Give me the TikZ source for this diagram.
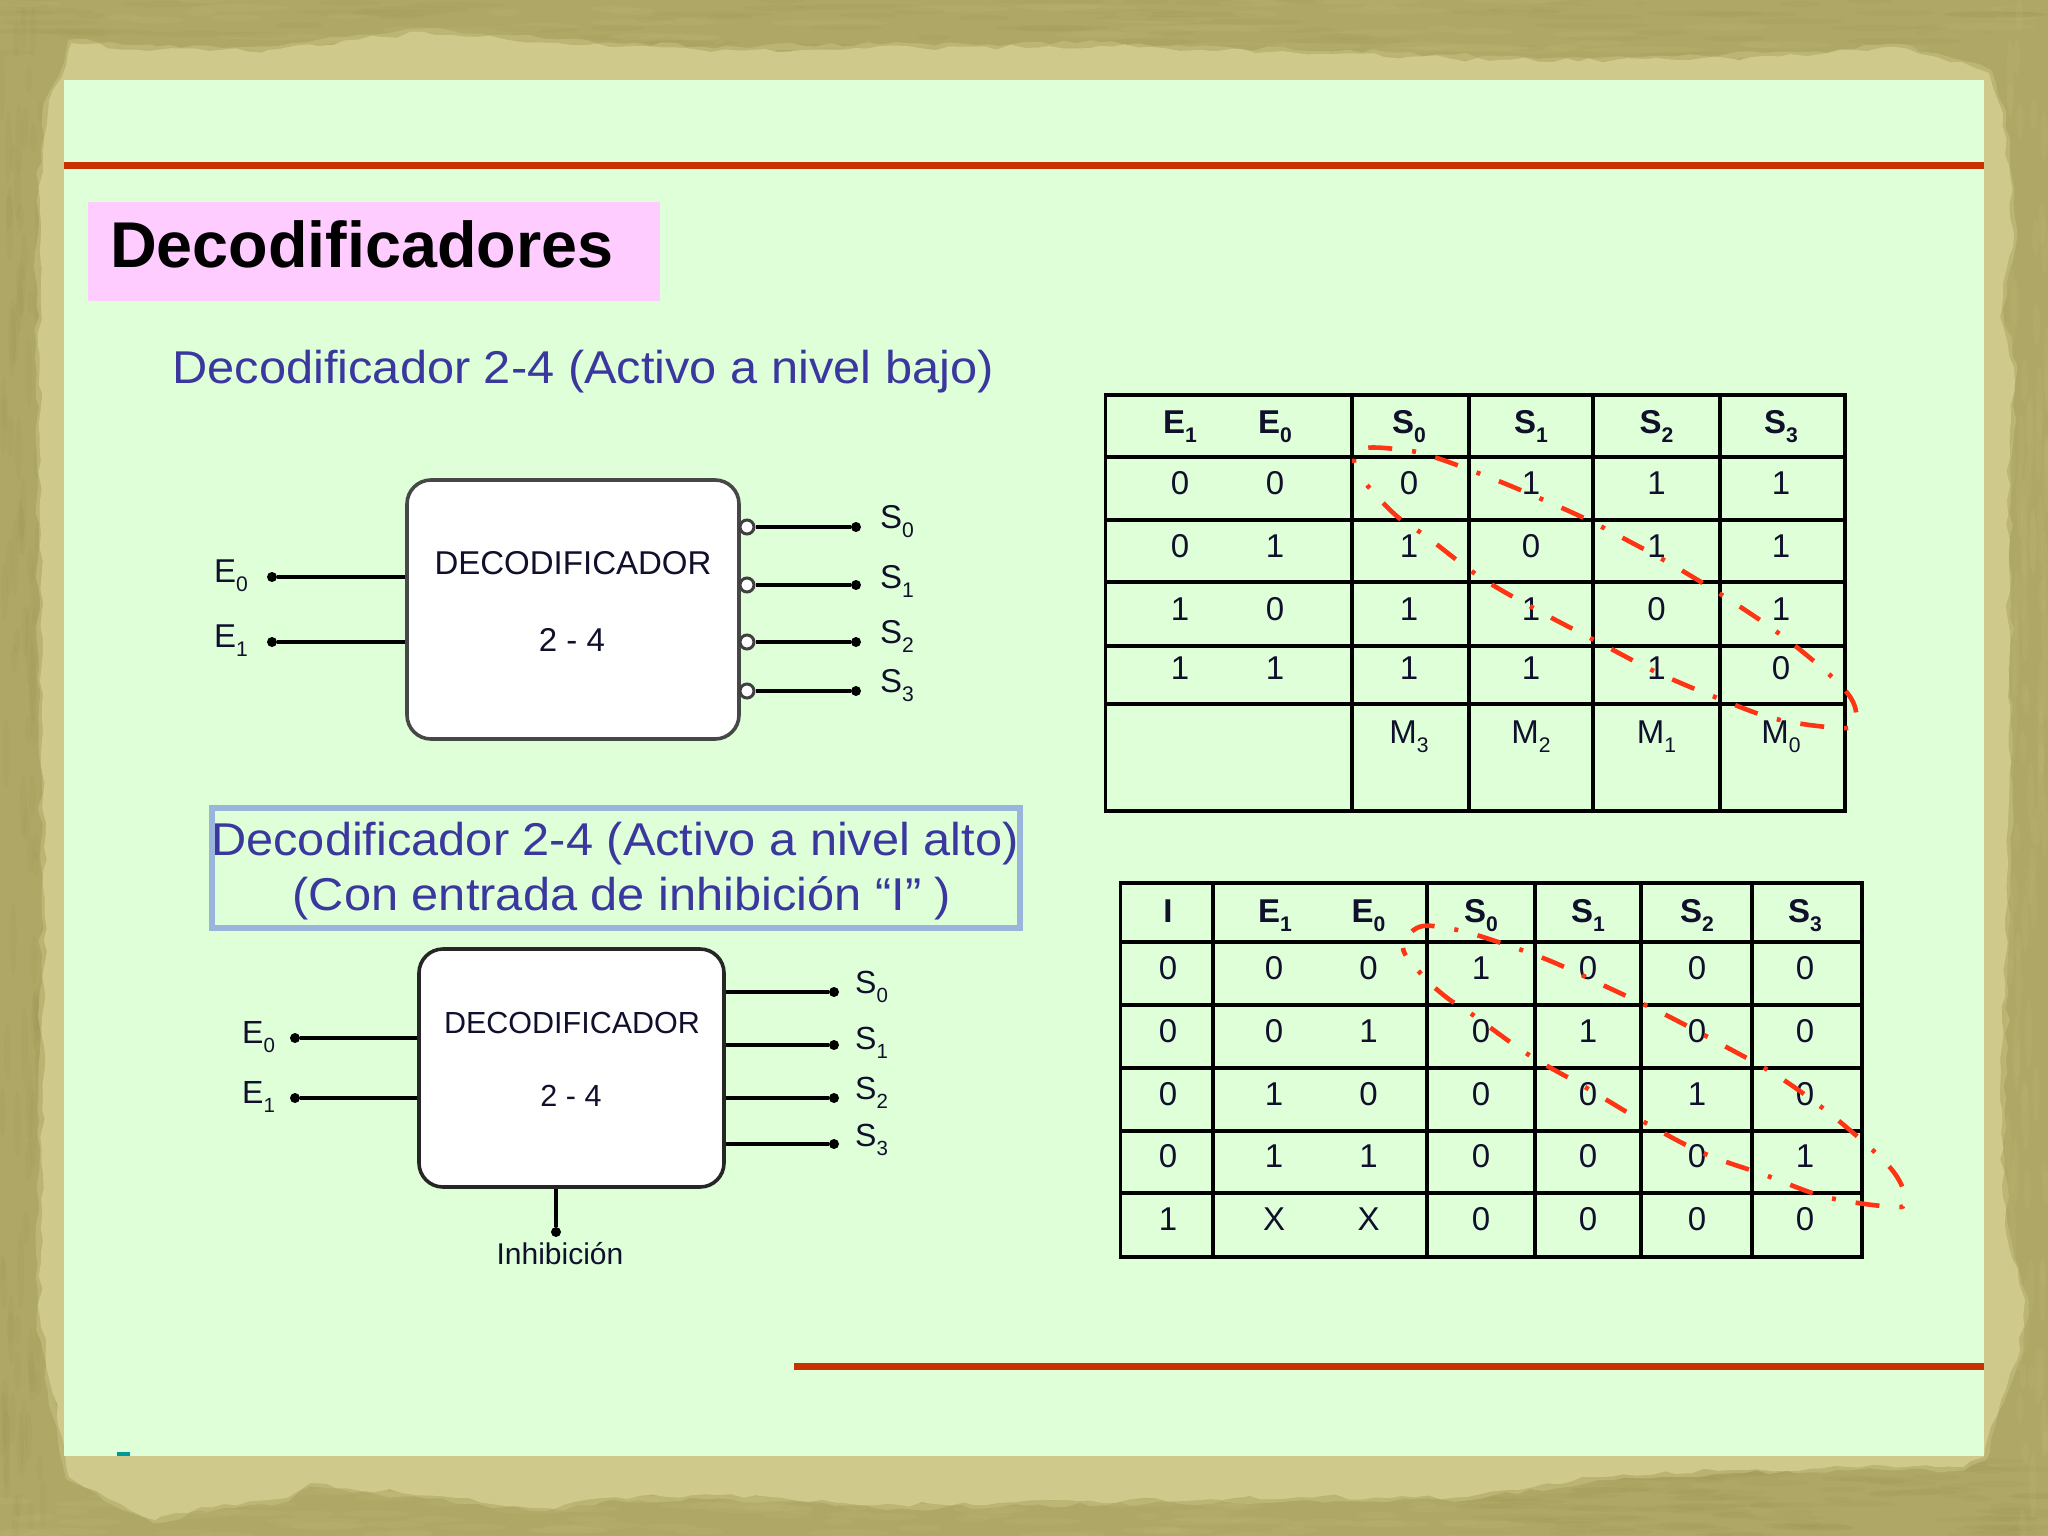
\documentclass[tikz,border=0pt]{standalone}
\usepackage{fontspec}
\usetikzlibrary{decorations.pathmorphing}
\setmainfont{Liberation Sans}
\definecolor{olive1}{HTML}{AEA765}
\definecolor{olive2}{HTML}{958E4C}
\definecolor{olive3}{HTML}{C2BB7A}
\definecolor{paperband}{HTML}{CFC98B}
\definecolor{panel}{HTML}{DFFFD9}
\definecolor{redline}{HTML}{C83200}
\definecolor{pinkbox}{HTML}{FFCCFF}
\definecolor{bluebox}{HTML}{9AB5DC}
\definecolor{headtxt}{HTML}{3A389E}
\definecolor{celltxt}{HTML}{10102C}
\definecolor{loopred}{HTML}{FF3414}
\newcommand{\fsz}[1]{\fontsize{#1}{#1}\selectfont}
\newcommand{\sbs}[1]{\raisebox{-0.3em}{\scalebox{0.64}{#1}}}
\newcommand{\wide}[1]{\scalebox{1.06}[1]{#1}}
\newcommand{\bandpath}{(71,43)--(156,50)--(268,50)--(424,32)--(558,43)--(700,50)--(1100,46)--(1500,60)--(1675,60)--(1815,55)--(1895,47)--(1937,57)--(1989,73)--(2003,113)--(2014,233)--(2003,283)--(2000,317)--(2014,367)--(2007,500)--(2009,800)--(2001,1133)--(2006,1233)--(2025,1300)--(2020,1350)--(2001,1400)--(1984,1457)--(1963,1467)--(1849,1467)--(1729,1470)--(1596,1477)--(1467,1497)--(1300,1497)--(900,1505)--(718,1495)--(603,1498)--(545,1508)--(402,1493)--(310,1483)--(287,1498)--(201,1507)--(155,1520)--(69,1477)--(57,1417)--(40,1317)--(45,900)--(40,500)--(40,200)--(49,100)--(62,77)--cycle}
\tikzset{
  cell/.style={anchor=base,inner sep=0pt,text=celltxt,font=\fsz{33}},
  headcell/.style={anchor=base,inner sep=0pt,text=celltxt,font=\fsz{33}\bfseries},
  gridline/.style={black,line width=3.4pt},
  decbox/.style={draw=#1,fill=white,rounded corners=24pt,line width=3.6pt,inner sep=0pt},
  wire/.style={black,line width=3.2pt},
  pin/.style={circle,fill=black,inner sep=0pt,minimum size=10pt},
  bubble/.style={circle,draw=black!75,line width=3pt,fill=white,inner sep=0pt,minimum size=14pt},
  pinlabel/.style={anchor=base west,inner sep=0pt,text=celltxt,font=\fsz{#1}},
  boxtext/.style={anchor=base,inner sep=0pt,text=celltxt,font=\fsz{#1}},
  heading/.style={anchor=base,inner sep=0pt,text=headtxt,font=\fsz{46}},
  loopline/.style={loopred,line width=4.6pt,dash pattern=on 24pt off 20pt on 4pt off 20pt},
  torn/.style={decorate,decoration={random steps,segment length=13pt,amplitude=2.6pt}}
}
\begin{document}
\begin{tikzpicture}[x=1pt,y=-1pt]
\useasboundingbox (0,0) rectangle (2048,1536);
\fill[olive1] (0,0) rectangle (2048,1536);
% mottled background
\pgfmathsetseed{11}
\foreach \i in {1,...,170}{
  \pgfmathsetmacro{\xa}{rnd*2048}\pgfmathsetmacro{\ya}{rnd*60}
  \pgfmathsetmacro{\ra}{15+rnd*50}
  \pgfmathsetmacro{\cc}{rnd<0.5?0:1}
  \ifdim\cc pt<0.5pt\fill[olive2,opacity=.10] (\xa,\ya) ellipse[x radius=\ra,y radius=3];
  \else\fill[olive3,opacity=.16] (\xa,\ya) ellipse[x radius=\ra,y radius=3.5];\fi
}
\foreach \i in {1,...,120}{
  \pgfmathsetmacro{\xa}{1475+rnd*570}\pgfmathsetmacro{\ya}{1460+rnd*76}
  \pgfmathsetmacro{\xb}{rnd*1500}\pgfmathsetmacro{\yb}{1490+rnd*46}
  \pgfmathsetmacro{\ra}{12+rnd*35}
  \fill[olive2,opacity=.10] (\xa,\ya) ellipse[x radius=\ra,y radius=3];
  \fill[olive3,opacity=.16] (\xb,\yb) ellipse[x radius=\ra,y radius=3.5];
}
\foreach \i in {1,...,110}{
  \pgfmathsetmacro{\xa}{rnd*44}\pgfmathsetmacro{\ya}{rnd*1536}
  \pgfmathsetmacro{\xb}{2006+rnd*42}\pgfmathsetmacro{\yb}{rnd*1536}
  \pgfmathsetmacro{\ra}{10+rnd*30}
  \fill[olive2,opacity=.10] (\xa,\ya) ellipse[x radius=3.5,y radius=\ra];
  \fill[olive3,opacity=.16] (\xb,\yb) ellipse[x radius=3.5,y radius=\ra];
}
% torn paper band
\fill[olive2,opacity=.16,torn] \bandpath;
\draw[olive3,line width=7pt,opacity=.7,line join=round,torn] \bandpath;
\fill[paperband,torn] \bandpath;
% panel
\fill[panel] (64,80) rectangle (1984,1456);
\fill[redline] (64,162) rectangle (1984,169);
\fill[redline] (794,1363) rectangle (1984,1370);
\fill[teal!80!cyan] (117,1452) rectangle (130,1456);
% title
\fill[pinkbox] (88,202) rectangle (660,301);
\node[anchor=base west,inner sep=0pt,text=black,font=\fsz{64.7}\bfseries] (title) at (110,267) {Decodificadores};
% headings
\node[heading] (head1) at (583,383) {\wide{Decodificador 2-4 (Activo a nivel bajo)}};
\draw[bluebox,line width=5.5pt] (212,808) rectangle (1020,928);
\node[heading] (head2a) at (615,855) {\wide{Decodificador 2-4 (Activo a nivel alto)}};
\node[heading] (head2b) at (622,910) {\wide{(Con entrada de inhibición “I” )}};

% block 1
\node[decbox=black!72,minimum width=332pt,minimum height=259pt] (dec1) at (573,609.5) {};
\node[boxtext=33] (dec1a) at (573,574) {DECODIFICADOR};
\node[boxtext=33] (dec1b) at (572,651) {2 - 4};
\foreach \n/\y in {e0/577,e1/642}{
  \node[pin] (\n) at (272,\y) {};
  \draw[wire] (\n) -- (\n -| dec1.west);
}
\foreach \n/\y in {s0/527,s1/585,s2/642,s3/691}{
  \node[bubble] (b\n) at (747,\y) {};
  \node[pin] (\n) at (856,\y) {};
  \draw[wire] (b\n) -- (\n);
}
\node[pinlabel=33] (le0) at (214,582) {E\sbs{0}};
\node[pinlabel=33] (le1) at (214,647) {E\sbs{1}};
\node[pinlabel=33] (ls0) at (880,528) {S\sbs{0}};
\node[pinlabel=33] (ls1) at (880,588) {S\sbs{1}};
\node[pinlabel=33] (ls2) at (880,643) {S\sbs{2}};
\node[pinlabel=33] (ls3) at (880,692) {S\sbs{3}};

% block 2
\node[decbox=black!85,minimum width=305pt,minimum height=238pt] (dec2) at (571.5,1068) {};
\node[boxtext=30.5] (dec2a) at (572,1033) {DECODIFICADOR};
\node[boxtext=30.5] (dec2b) at (571,1106) {2 - 4};
\foreach \n/\y in {f0/1038,f1/1098}{
  \node[pin] (\n) at (295,\y) {};
  \draw[wire] (\n) -- (\n -| dec2.west);
}
\foreach \n/\y in {t0/992,t1/1045,t2/1098,t3/1144}{
  \node[pin] (\n) at (834,\y) {};
  \draw[wire] (\n -| dec2.east) -- (\n);
}
\node[pin] (inh) at (556,1232) {};
\draw[wire] (inh |- dec2.south) -- (inh);
\node[pinlabel=32] (lf0) at (242,1043) {E\sbs{0}};
\node[pinlabel=32] (lf1) at (242,1103) {E\sbs{1}};
\node[pinlabel=32] (lt0) at (855,993) {S\sbs{0}};
\node[pinlabel=32] (lt1) at (855,1049) {S\sbs{1}};
\node[pinlabel=32] (lt2) at (855,1099) {S\sbs{2}};
\node[pinlabel=32] (lt3) at (855,1146) {S\sbs{3}};
\node[boxtext=30] (linh) at (560,1264) {Inhibición};

% table 1
\foreach \x in {1105.5,1352,1469,1593,1720,1845} \draw[gridline] (\x,393.3) -- (\x,812.7);
\foreach \y in {395,457,520,582,646,704,811} \draw[gridline] (1105.5,\y) -- (1845,\y);
\foreach \n/\x/\t in {a/1180/E\sbs{1},b/1275/E\sbs{0},c/1409/S\sbs{0},d/1531/S\sbs{1},e/1656.5/S\sbs{2},f/1781/S\sbs{3}}
  \node[headcell] (Ah\n) at (\x,433) {\t};
\foreach \r/\y/\v in {1/494/{0,0,0,1,1,1},2/557/{0,1,1,0,1,1},3/620/{1,0,1,1,0,1},4/679/{1,1,1,1,1,0}}{
  \foreach \t [count=\c] in \v {
    \pgfmathsetmacro{\xx}{{1180,1275,1409,1531,1656.5,1781}[\c-1]}
    \node[cell] (A\r-\c) at (\xx,\y) {\t};
  }
}
\foreach \n/\x/\t in {a/1409/M\sbs{3},b/1531/M\sbs{2},c/1656.5/M\sbs{1},d/1781/M\sbs{0}}
  \node[cell] (Am\n) at (\x,743) {\t};

% table 2
\foreach \x in {1120.5,1213,1427,1535,1641,1752,1862} \draw[gridline] (\x,881.3) -- (\x,1258.7);
\foreach \y in {883,942,1005,1068,1131,1193,1257} \draw[gridline] (1120.5,\y) -- (1862,\y);
\foreach \n/\x/\t in {a/1168/I,b/1275/E\sbs{1},c/1368.5/E\sbs{0},d/1481/S\sbs{0},e/1588/S\sbs{1},f/1697/S\sbs{2},g/1805/S\sbs{3}}
  \node[headcell] (Bh\n) at (\x,922) {\t};
\foreach \r/\y/\v in {1/979.5/{0,0,0,1,0,0,0},2/1042/{0,0,1,0,1,0,0},3/1105/{0,1,0,0,0,1,0},4/1167/{0,1,1,0,0,0,1},5/1230/{1,X,X,0,0,0,0}}{
  \foreach \t [count=\c] in \v {
    \pgfmathsetmacro{\xx}{{1168,1274,1368.5,1481,1588,1697,1805}[\c-1]}
    \node[cell] (B\r-\c) at (\xx,\y) {\t};
  }
}

% red dash-dot loops
\draw[loopline,dash phase=24pt] plot[smooth cycle,tension=.6] coordinates {
 (1361,449) (1355.5,469) (1376,495) (1399,518) (1427,537) (1480,577) (1537,610) (1598,642) (1656,672) (1715,697) (1776,719) (1840,728) (1855,723) (1853,702) (1832,677) (1781,635) (1725,597) (1669,563) (1621,537) (1592,522) (1562,508) (1501,482) (1437,458) (1404,450)};
\draw[loopline,dash phase=16pt] plot[smooth cycle,tension=.6] coordinates {
 (1419,927) (1403,948) (1422,975) (1446,997) (1473,1015) (1529,1055) (1585,1087) (1644,1122) (1703,1153) (1765,1175) (1826,1197) (1893,1207) (1904,1202) (1900,1182) (1880,1157) (1829,1113) (1776,1075) (1717,1042) (1668,1016) (1639,1002) (1607,987) (1548,960) (1486,938) (1452,929)};
\end{tikzpicture}
\end{document}
